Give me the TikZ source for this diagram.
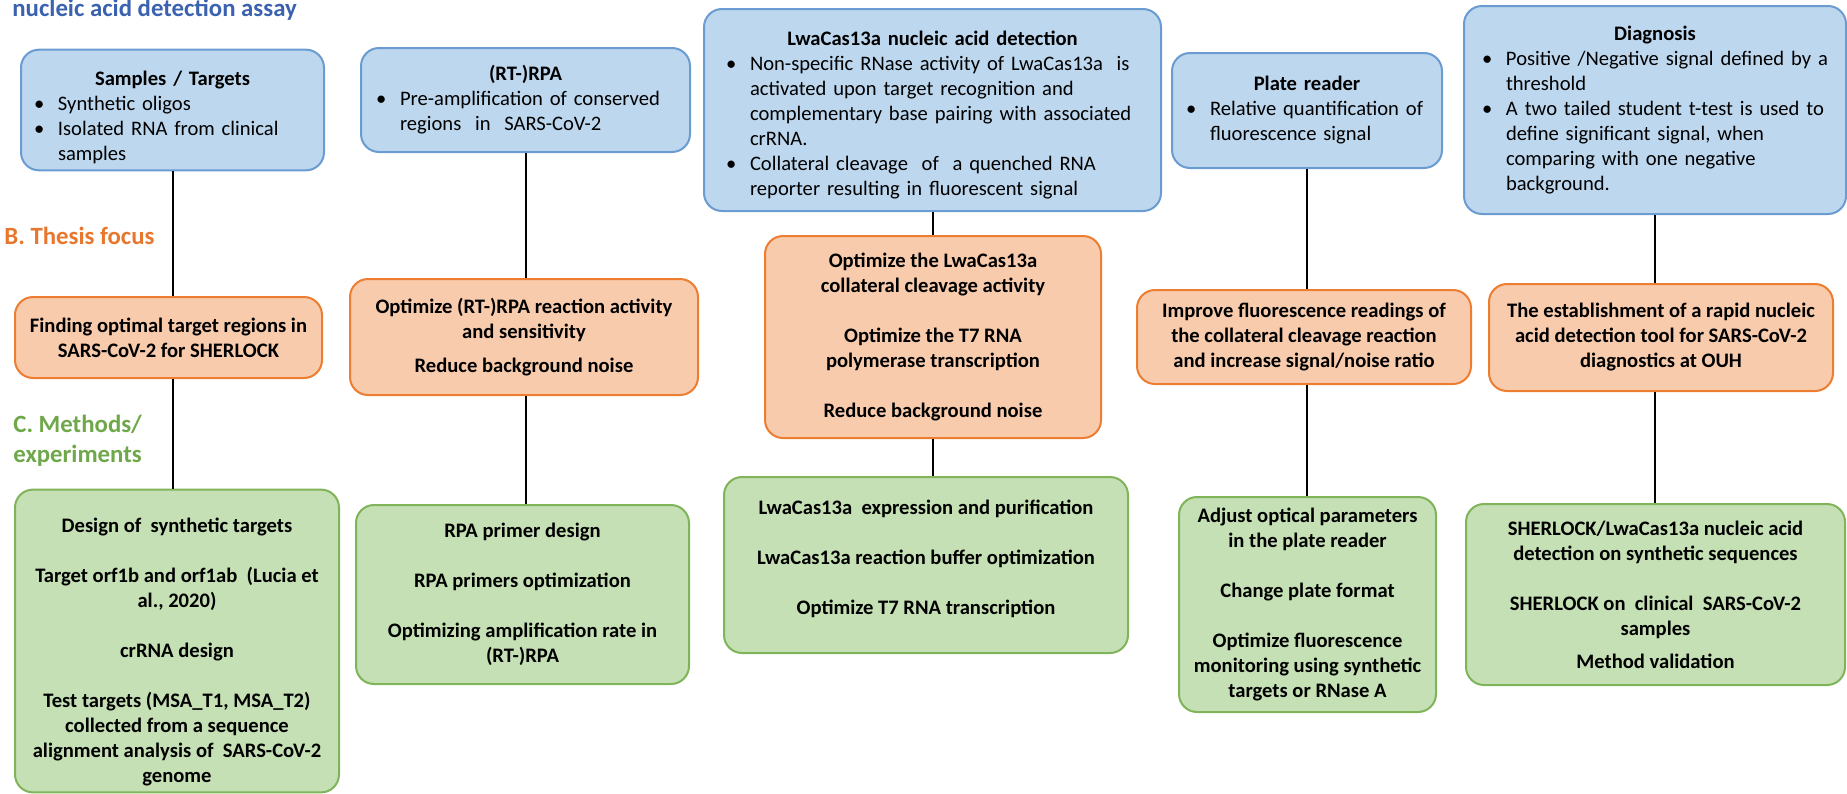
\documentclass[tikz,border=0pt]{standalone}
\usepackage{fontspec}
\setmainfont{Carlito}
\definecolor{blueFill}{HTML}{BDD7EE}
\definecolor{blueLine}{HTML}{6A9BD1}
\definecolor{orangeFill}{HTML}{F8CBAD}
\definecolor{orangeLine}{HTML}{ED7D31}
\definecolor{greenFill}{HTML}{C5E0B4}
\definecolor{greenLine}{HTML}{80B45A}
\definecolor{titleBlue}{HTML}{3A62AE}
\definecolor{labelOrange}{HTML}{E8772E}
\definecolor{labelGreen}{HTML}{6FA84A}
\newcommand{\bul}[1]{\par\hangindent=12pt\hangafter=1\noindent\makebox[12pt][l]{\textbullet}#1\par}
\newcommand{\boxhead}[2][0pt]{{\centering\rule{0pt}{#1}\textbf{#2}\par}}

\begin{document}
\begin{tikzpicture}
[x=0.5pt,y=-0.5pt,font=\fontsize{10.3}{12.5}\selectfont,%
  boxDecorate/.style={shape=rectangle,rounded corners=9pt,line width=1pt},
  blueDecorate/.style={boxDecorate,draw=blueLine,fill=blueFill,align=left},
  orangeDecorate/.style={boxDecorate,draw=orangeLine,fill=orangeFill,align=center,font=\fontsize{10.3}{12.5}\selectfont\bfseries},
  greenDecorate/.style={boxDecorate,draw=greenLine,fill=greenFill,align=center,font=\fontsize{10.3}{12.5}\selectfont\bfseries},
  headDecorate/.style={inner sep=0pt,font=\fontsize{12.4}{15}\selectfont\bfseries,align=left},
  lineDecorate/.style={-,line width=1pt,black}]
\useasboundingbox (0,0) rectangle (1847,793);
%% section labels
\node (title) [headDecorate,text=titleBlue,anchor=base west] at (12,16) {nucleic acid detection assay};
\node (focus) [headDecorate,text=labelOrange,anchor=west] at (4,236) {B. Thesis focus};
\node (methods) [headDecorate,text=labelGreen,anchor=west] at (13,441) {C. Methods/\\experiments};
%% top row: assay steps
\node (smp) [blueDecorate,minimum width=151.5pt,minimum height=58pt,inner xsep=6.5pt,text width=138.5pt] at (172.5,110)
  {\boxhead[14.5pt]{Samples / Targets}\bul{Synthetic oligos}\bul{Isolated RNA from clinical\newline samples}};
\node (rpa) [blueDecorate,minimum width=164.5pt,minimum height=52pt,inner xsep=7.5pt,text width=149.5pt] at (525.5,100)
  {\boxhead{(RT-)RPA}\bul{Pre-amplification of conserved\newline regions\ \ in\ \ SARS-CoV-2}};
\node (lwa) [blueDecorate,minimum width=228.5pt,minimum height=101pt,inner xsep=11pt,text width=206.5pt] at (932.5,110)
  {\boxhead[12.5pt]{LwaCas13a nucleic acid detection}%
   \bul{Non-specific RNase activity of LwaCas13a\ \ is\newline activated upon target recognition and\newline complementary base pairing with associated\newline crRNA.}%
   \bul{Collateral cleavage\ \ of\ \ a quenched RNA\newline reporter resulting in fluorescent signal}};
\node (plr) [blueDecorate,minimum width=135pt,minimum height=57.5pt,inner xsep=7pt,text width=121pt] at (1307,110.5)
  {\boxhead{Plate reader}\bul{Relative quantification of\newline fluorescence signal}};
\node (dia) [blueDecorate,minimum width=191pt,minimum height=104pt,inner xsep=9pt,text width=173pt] at (1655,110)
  {\boxhead{Diagnosis}%
   \bul{Positive /Negative signal defined by a\newline threshold}%
   \bul{A two tailed student t-test is used to\newline define significant signal, when\newline comparing with one negative\newline background.}};
%% middle row: thesis focus
\node (fnd) [orangeDecorate,minimum width=153.5pt,minimum height=40.5pt] at (168.5,337.5)
  {Finding optimal target regions in\\SARS-CoV-2 for SHERLOCK};
\node (orpa) [orangeDecorate,minimum width=174pt,minimum height=58pt] at (524,337)
  {Optimize (RT-)RPA reaction activity\\and sensitivity\\[4.5pt]Reduce background noise};
\node (olwa) [orangeDecorate,minimum width=168pt,minimum height=101pt] at (933,337)
  {Optimize the LwaCas13a\\collateral cleavage activity\\[12.5pt]Optimize the T7 RNA\\polymerase transcription\\[12.5pt]Reduce background noise};
\node (imp) [orangeDecorate,minimum width=167pt,minimum height=47pt] at (1304,337)
  {Improve fluorescence readings of\\the collateral cleavage reaction\\and increase signal/noise ratio};
\node (est) [orangeDecorate,minimum width=172pt,minimum height=53.5pt] at (1661,337.5)
  {The establishment of a rapid nucleic\\acid detection tool for SARS-CoV-2\\diagnostics at OUH};
%% bottom row: methods / experiments
\node (dsg) [greenDecorate,minimum width=162pt,minimum height=150pt] at (177,641)
  {\rule{0pt}{18pt}Design of\ \ synthetic targets\\[12.5pt]Target orf1b and orf1ab\ \ (Lucia et\\al., 2020)\\[12.5pt]crRNA design\\[12.5pt]Test targets (MSA\_T1, MSA\_T2)\\collected from a sequence\\alignment analysis of\ \ SARS-CoV-2\\genome};
\node (gprm) [greenDecorate,minimum width=166.5pt,minimum height=89.5pt] at (522.5,594.5)
  {RPA primer design\\[12.5pt]RPA primers optimization\\[12.5pt]Optimizing amplification rate in\\(RT-)RPA};
\node (glwa) [greenDecorate,minimum width=202pt,minimum height=88pt] at (926,565)
  {LwaCas13a\ \ expression and purification\\[12.5pt]LwaCas13a reaction buffer optimization\\[12.5pt]Optimize T7 RNA transcription\\[-5pt]\mbox{}};
\node (adj) [greenDecorate,minimum width=128.5pt,minimum height=107.5pt] at (1307.5,604.5)
  {Adjust optical parameters\\in the plate reader\\[12.5pt]Change plate format\\[12.5pt]Optimize fluorescence\\monitoring using synthetic\\targets or RNase A};
\node (shl) [greenDecorate,minimum width=189.5pt,minimum height=90.5pt] at (1655.5,594.5)
  {SHERLOCK/LwaCas13a nucleic acid\\detection on synthetic sequences\\[12.5pt]SHERLOCK on\ \ clinical\ \ SARS-CoV-2\\samples\\[4pt]Method validation};
%% connectors, one column at a time
\foreach \topnode/\midnode/\lownode in {smp/fnd/dsg, rpa/orpa/gprm, lwa/olwa/glwa,
  plr/imp/adj, dia/est/shl}
{
  \draw[lineDecorate] (\topnode.south) -- (\topnode.south |- \midnode.north);
  \draw[lineDecorate] (\topnode.south |- \midnode.south) -- (\topnode.south |- \lownode.north);
}
\end{tikzpicture}
\end{document}
